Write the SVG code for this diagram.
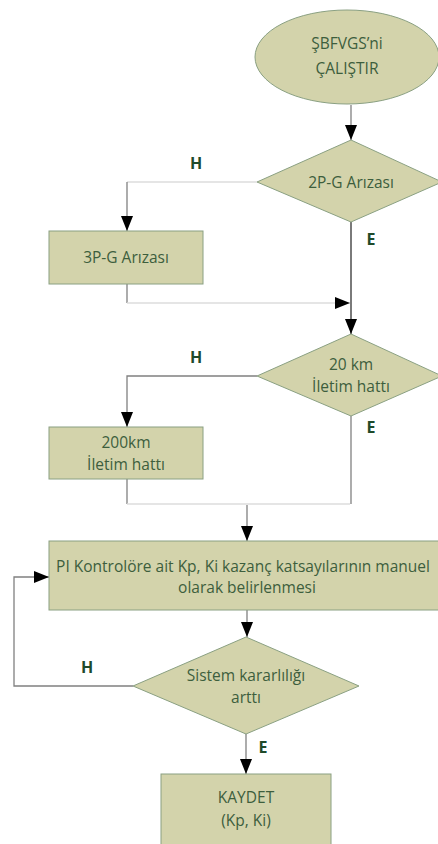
<svg xmlns="http://www.w3.org/2000/svg" width="438" height="844" viewBox="0 0 438 844">
<style>
.n{fill:#d3d3ab;stroke:#8aa082;stroke-width:1}
.t{font-family:"Open Sans","Noto Sans",sans-serif;font-size:15.5px;fill:#3d5e3d;text-anchor:middle}
.l{font-family:"Open Sans","Noto Sans",sans-serif;font-size:16px;font-weight:bold;fill:#1f4a2a;text-anchor:middle}
.d{fill:none;stroke:#808080;stroke-width:1.3}
.g{fill:none;stroke:#dcdcdc;stroke-width:1.3}
.k{fill:none;stroke:#7a7a7a;stroke-width:2}
</style>
<defs>
<marker id="a" viewBox="0 0 15 12" refX="15" refY="6" markerWidth="15" markerHeight="12" markerUnits="userSpaceOnUse" orient="auto"><path d="M0,0 L15,6 L0,12 Z" fill="#000"/></marker>
</defs>
<rect width="438" height="844" fill="#fff"/>
<g id="connectors">
<path class="d" d="M351,105 V140" marker-end="url(#a)"/>
<path class="g" d="M257,182 H127"/>
<path class="d" d="M127,182 V231" marker-end="url(#a)"/>
<path class="k" d="M351,222 V334" marker-end="url(#a)"/>
<path class="d" d="M127,284 V303"/>
<path class="g" d="M127,303 H350" marker-end="url(#a)"/>
<path class="d" d="M257,376 H127 V427" marker-end="url(#a)"/>
<path class="d" d="M351,416 V504"/>
<path class="d" d="M127,479 V504"/>
<path class="g" d="M127,504 H350"/>
<path class="d" d="M247,505 V541" marker-end="url(#a)"/>
<path class="d" d="M247,610 V637" marker-end="url(#a)"/>
<path class="d" d="M133,686 H14 V577 H49" marker-end="url(#a)"/>
<path class="d" d="M246,734 V774" marker-end="url(#a)"/>
</g>
<g id="start"><ellipse class="n" cx="347" cy="57" rx="92" ry="47"/><text class="t" x="347" y="49">ŞBFVGS’ni</text><text class="t" x="347" y="74">ÇALIŞTIR</text></g>
<g id="d1"><path class="n" d="M351,140 L442,182 L351,222 L257,182 Z"/><text class="t" x="351" y="188">2P-G Arızası</text></g>
<g id="b1"><rect class="n" x="49" y="231" width="154" height="53"/><text class="t" x="126" y="263">3P-G Arızası</text></g>
<g id="d2"><path class="n" d="M351,334 L442,376 L351,416 L257,376 Z"/><text class="t" x="351" y="370">20 km</text><text class="t" x="351" y="392">İletim hattı</text></g>
<g id="b2"><rect class="n" x="49" y="427" width="154" height="52"/><text class="t" x="126" y="448">200km</text><text class="t" x="126" y="470">İletim hattı</text></g>
<g id="pi"><rect class="n" x="49" y="541" width="390" height="69"/><text class="t" x="243" y="572">PI Kontrolöre ait Kp, Ki kazanç katsayılarının manuel</text><text class="t" x="247" y="593">olarak belirlenmesi</text></g>
<g id="d3"><path class="n" d="M246,637 L359,686 L246,734 L133,686 Z"/><text class="t" x="246" y="681">Sistem kararlılığı</text><text class="t" x="246" y="703">arttı</text></g>
<g id="save"><rect class="n" x="161" y="774" width="170" height="80"/><text class="t" x="246" y="803">KAYDET</text><text class="t" x="246" y="826">(Kp, Ki)</text></g>
<g id="labels">
<text class="l" x="196" y="169">H</text>
<text class="l" x="371" y="245">E</text>
<text class="l" x="196" y="363">H</text>
<text class="l" x="371" y="433">E</text>
<text class="l" x="87" y="673">H</text>
<text class="l" x="263" y="753">E</text>
</g>
</svg>
